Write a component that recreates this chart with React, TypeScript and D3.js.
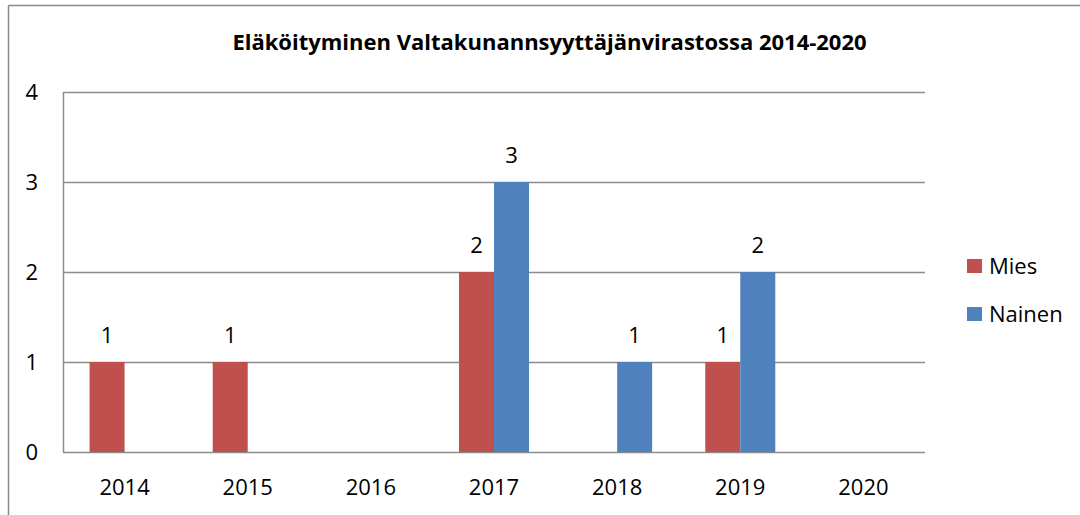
import React from "react";
import * as d3 from "d3";

const title = "Eläköityminen Valtakunannsyyttäjänvirastossa 2014-2020";
const years = ["2014", "2015", "2016", "2017", "2018", "2019", "2020"];
const seriesNames = ["Mies", "Nainen"];
const miesValues = [1, 1, 0, 2, 0, 1, 0];
const nainenValues = [0, 0, 0, 3, 1, 2, 0];
const yTicks = [0, 1, 2, 3, 4];
const colors = ["#C0504D", "#4F81BD"];

const W = 1080;
const H = 515;
const plot = { left: 63, right: 925, top: 92, bottom: 452 };
const font = "'Open Sans', 'Noto Sans', sans-serif";

export default function App() {
  const x = d3.scaleBand<string>().domain(years).range([plot.left, plot.right]).padding(0);
  const step = x.step();
  const sub = d3
    .scaleBand<string>()
    .domain(seriesNames)
    .range([step / 2 - 35, step / 2 + 35])
    .padding(0);
  const y = d3.scaleLinear().domain([0, 4]).range([plot.bottom, plot.top]);
  const series = [miesValues, nainenValues];

  return (
    <svg
      width={W}
      height={H}
      style={{ position: "absolute", left: 0, top: 0, background: "#fff" }}
      fontFamily={font}
    >
      <rect x={0} y={0} width={W} height={H} fill="#fff" />
      {/* chart border */}
      <line x1={8.5} y1={5.5} x2={W} y2={5.5} stroke="#898989" strokeWidth={1.5} />
      <line x1={8.5} y1={5.5} x2={8.5} y2={H} stroke="#898989" strokeWidth={1.5} />

      <text x={549.5} y={50} textAnchor="middle" fontSize={22} fontWeight="bold" fill="#000">
        {title}
      </text>

      {/* gridlines */}
      {yTicks.map((t) => (
        <line
          key={t}
          x1={plot.left}
          x2={plot.right}
          y1={Math.round(y(t)) + 0.5}
          y2={Math.round(y(t)) + 0.5}
          stroke="#8c8c8c"
          strokeWidth={1.5}
        />
      ))}
      <line
        x1={plot.left + 0.5}
        x2={plot.left + 0.5}
        y1={plot.top}
        y2={plot.bottom}
        stroke="#8c8c8c"
        strokeWidth={1.5}
      />

      {/* y tick labels */}
      {yTicks.map((t) => (
        <text key={t} x={38} y={y(t) + 8} textAnchor="end" fontSize={22} fill="#000">
          {t}
        </text>
      ))}

      {/* bars */}
      {series.map((vals, si) =>
        vals.map((v, i) =>
          v > 0 ? (
            <rect
              key={`${si}-${i}`}
              x={(x(years[i]) ?? 0) + (sub(seriesNames[si]) ?? 0)}
              y={y(v)}
              width={sub.bandwidth()}
              height={y(0) - y(v)}
              fill={colors[si]}
            />
          ) : null
        )
      )}

      {/* data labels */}
      {series.map((vals, si) =>
        vals.map((v, i) =>
          v > 0 ? (
            <text
              key={`l${si}-${i}`}
              x={(x(years[i]) ?? 0) + (sub(seriesNames[si]) ?? 0) + sub.bandwidth() / 2}
              y={y(v) - 19}
              textAnchor="middle"
              fontSize={22}
              fill="#000"
            >
              {v}
            </text>
          ) : null
        )
      )}

      {/* x labels */}
      {years.map((yr) => (
        <text
          key={yr}
          x={(x(yr) ?? 0) + step / 2}
          y={495}
          textAnchor="middle"
          fontSize={22}
          fill="#000"
        >
          {yr}
        </text>
      ))}

      {/* legend */}
      {seriesNames.map((n, i) => (
        <g key={n} transform={`translate(967, ${259 + i * 48})`}>
          <rect x={0} y={0} width={15} height={14} fill={colors[i]} />
          <text x={22} y={15} fontSize={22} fill="#000">
            {n}
          </text>
        </g>
      ))}
    </svg>
  );
}
